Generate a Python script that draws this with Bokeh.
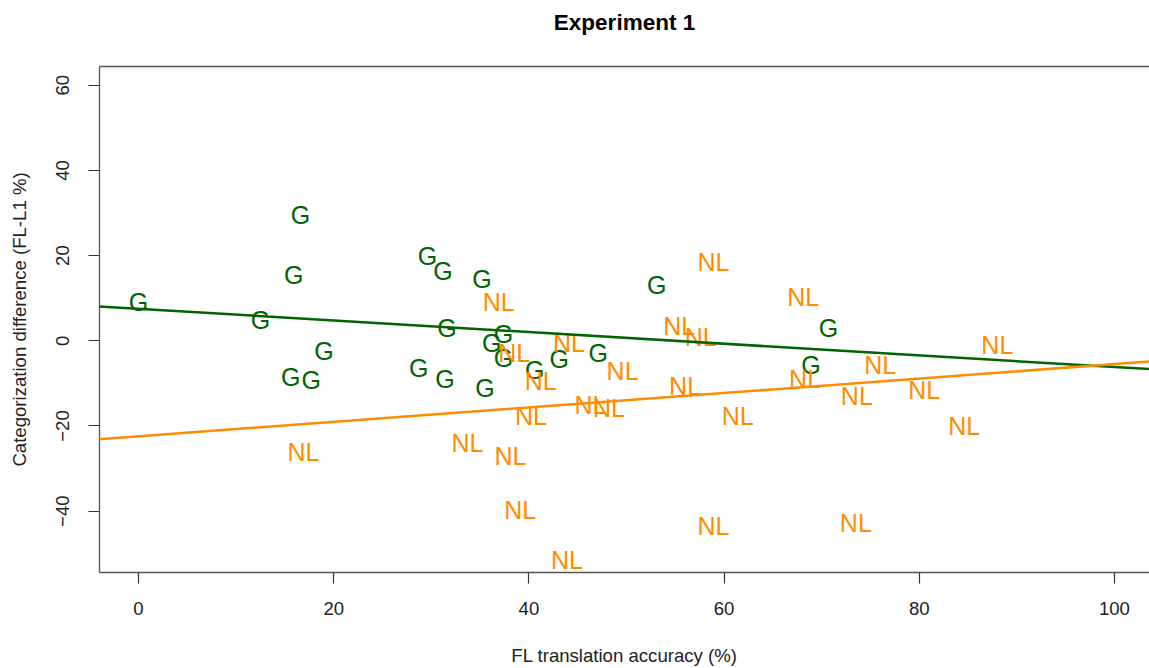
from bokeh.plotting import figure
from bokeh.models import Slope, FixedTicker, LinearAxis, Range1d, ColumnDataSource
from bokeh.core.properties import value
from bokeh.embed import file_html
from bokeh.resources import INLINE

# Group G (green)
g_x = [0.0, 16.6, 15.9, 12.5, 19.0, 15.6, 17.7, 29.6, 31.2, 35.2, 31.6, 28.7,
       31.4, 35.5, 36.2, 37.4, 37.4, 40.6, 43.1, 47.1, 53.1, 70.7, 68.9]
g_y = [9.2, 29.6, 15.5, 4.9, -2.4, -8.4, -9.2, 20.0, 16.5, 14.5, 3.1, -6.3,
       -9.0, -11.0, -0.4, 1.6, -4.1, -6.8, -4.3, -2.9, 13.2, 3.0, -5.6]

# Group NL (orange)
nl_x = [16.9, 36.9, 58.9, 38.5, 44.1, 41.2, 49.6, 55.4, 57.6, 56.0, 46.3, 48.2,
        40.2, 61.4, 33.7, 38.1, 39.1, 58.9, 43.9, 68.1, 88.0, 76.0, 68.3, 73.6,
        80.5, 84.6, 73.5]
nl_y = [-26.0, 9.2, 18.4, -2.9, -0.4, -9.4, -7.2, 3.4, 1.0, -10.7, -15.0, -15.8,
        -17.6, -17.6, -23.9, -27.0, -39.7, -43.5, -51.4, 10.3, -0.9, -5.6, -9.0,
        -12.9, -11.5, -20.0, -42.8]

# Fitted regression lines (intercept, slope)
fit_g = (7.51, -0.1367)
fit_nl = (-22.42, 0.1695)

x_ticks = [0, 20, 40, 60, 80, 100]
y_ticks = [-40, -20, 0, 20, 40, 60]
title_text = "Experiment 1"

GREEN = "#006400"
ORANGE = "#FF8C00"
FONT = "Liberation Sans"

p = figure(width=1149, height=668,
           x_range=Range1d(-4, 103.59), y_range=Range1d(-54.4, 64.4),
           output_backend="svg", toolbar_location=None,
           min_border_left=99, min_border_right=0,
           min_border_top=66, min_border_bottom=96)
p.xgrid.visible = False
p.ygrid.visible = False
p.outline_line_color = None
p.background_fill_color = "white"
p.border_fill_color = "white"

for ax in (p.xaxis[0], p.yaxis[0]):
    ax.axis_line_color = "#555555"
    ax.axis_line_width = 1.3
    ax.major_tick_line_color = "#333333"
    ax.major_tick_line_width = 1.2
    ax.minor_tick_line_color = None
    ax.major_tick_out = 11
    ax.major_tick_in = 0
    ax.major_label_text_font = FONT
    ax.major_label_text_font_size = "18.6px"
    ax.major_label_text_color = "#222222"
    ax.axis_label_text_font = FONT
    ax.axis_label_text_font_size = "18.6px"
    ax.axis_label_text_font_style = "normal"
    ax.axis_label_text_color = "#222222"

p.xaxis.ticker = FixedTicker(ticks=x_ticks)
p.yaxis.ticker = FixedTicker(ticks=y_ticks)
p.xaxis.axis_label = "FL translation accuracy (%)"
p.yaxis.axis_label = "Categorization difference (FL-L1 %)"
p.yaxis.major_label_orientation = "vertical"
p.xaxis.major_label_standoff = 18
p.xaxis.axis_label_standoff = 27
p.yaxis.major_label_standoff = 19
p.yaxis.axis_label_standoff = 24

# Top border of the box, carrying the chart title
top = LinearAxis(ticker=FixedTicker(ticks=[]), axis_line_color="#555555",
                 axis_line_width=1.3, major_tick_line_color=None,
                 minor_tick_line_color=None, major_tick_out=0, major_tick_in=0,
                 major_label_standoff=0, major_label_text_font_size="0px",
                 axis_label=title_text, axis_label_standoff=32,
                 axis_label_text_font=FONT, axis_label_text_font_style="bold",
                 axis_label_text_font_size="22.5px",
                 axis_label_text_color="black")
p.add_layout(top, "above")

p.add_layout(Slope(gradient=fit_g[1], y_intercept=fit_g[0],
                   line_color=GREEN, line_width=2.5))
p.add_layout(Slope(gradient=fit_nl[1], y_intercept=fit_nl[0],
                   line_color=ORANGE, line_width=2.5))

src_g = ColumnDataSource(dict(x=g_x, y=g_y, t=["G"] * len(g_x)))
src_nl = ColumnDataSource(dict(x=nl_x, y=nl_y, t=["NL"] * len(nl_x)))
p.text(x="x", y="y", text="t", source=src_g, text_color=GREEN,
       text_font=value(FONT), text_font_size="25px",
       text_align="center", text_baseline="middle")
p.text(x="x", y="y", text="t", source=src_nl, text_color=ORANGE,
       text_font=value(FONT), text_font_size="25px",
       text_align="center", text_baseline="middle")

open("out.html", "w").write(file_html(p, INLINE))
